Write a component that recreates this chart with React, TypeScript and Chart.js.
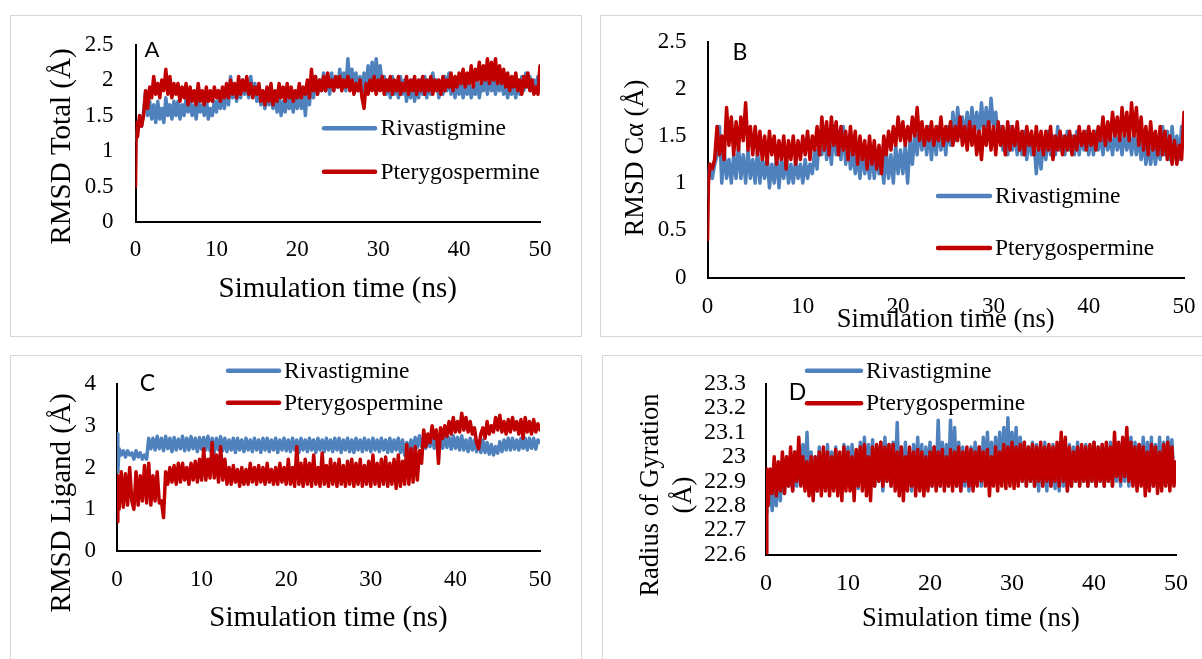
import React, { useEffect, useRef } from 'react';
import { Chart, registerables } from 'chart.js';

Chart.register(...registerables);

// ---------- data ----------
// sampling times (ns): 0, 0.1, then every 0.25 ns up to 50
const timeNs = [
  0, 0.1,
  0.25, 0.5, 0.75, 1, 1.25, 1.5, 1.75, 2, 2.25, 2.5, 2.75, 3, 3.25, 3.5, 3.75, 4, 4.25, 4.5, 4.75, 5,
  5.25, 5.5, 5.75, 6, 6.25, 6.5, 6.75, 7, 7.25, 7.5, 7.75, 8, 8.25, 8.5, 8.75, 9, 9.25, 9.5, 9.75, 10,
  10.25, 10.5, 10.75, 11, 11.25, 11.5, 11.75, 12, 12.25, 12.5, 12.75, 13, 13.25, 13.5, 13.75, 14, 14.25, 14.5, 14.75, 15,
  15.25, 15.5, 15.75, 16, 16.25, 16.5, 16.75, 17, 17.25, 17.5, 17.75, 18, 18.25, 18.5, 18.75, 19, 19.25, 19.5, 19.75, 20,
  20.25, 20.5, 20.75, 21, 21.25, 21.5, 21.75, 22, 22.25, 22.5, 22.75, 23, 23.25, 23.5, 23.75, 24, 24.25, 24.5, 24.75, 25,
  25.25, 25.5, 25.75, 26, 26.25, 26.5, 26.75, 27, 27.25, 27.5, 27.75, 28, 28.25, 28.5, 28.75, 29, 29.25, 29.5, 29.75, 30,
  30.25, 30.5, 30.75, 31, 31.25, 31.5, 31.75, 32, 32.25, 32.5, 32.75, 33, 33.25, 33.5, 33.75, 34, 34.25, 34.5, 34.75, 35,
  35.25, 35.5, 35.75, 36, 36.25, 36.5, 36.75, 37, 37.25, 37.5, 37.75, 38, 38.25, 38.5, 38.75, 39, 39.25, 39.5, 39.75, 40,
  40.25, 40.5, 40.75, 41, 41.25, 41.5, 41.75, 42, 42.25, 42.5, 42.75, 43, 43.25, 43.5, 43.75, 44, 44.25, 44.5, 44.75, 45,
  45.25, 45.5, 45.75, 46, 46.25, 46.5, 46.75, 47, 47.25, 47.5, 47.75, 48, 48.25, 48.5, 48.75, 49, 49.25, 49.5, 49.75, 50,
];

// A: RMSD Total
const totalRiva = [
  1.15, 1.25,
  1.3, 1.45, 1.35, 1.55, 1.85, 1.5, 1.7, 1.45, 1.65, 1.4, 1.7, 1.45, 1.6, 1.4, 1.75, 1.5, 1.65, 1.45, 1.7, 1.5,
  1.7, 1.45, 1.65, 1.5, 1.75, 1.55, 1.7, 1.5, 1.65, 1.45, 1.7, 1.55, 1.65, 1.5, 1.75, 1.45, 1.6, 1.5, 1.7, 1.55,
  1.75, 1.6, 1.8, 1.6, 1.9, 1.65, 2.05, 1.75, 1.9, 1.7, 1.95, 1.75, 2.0, 1.8, 1.95, 1.75, 2.05, 1.8, 1.95, 1.7,
  1.85, 1.65, 1.8, 1.6, 1.85, 1.65, 1.75, 1.6, 1.8, 1.55, 1.75, 1.5, 1.7, 1.55, 1.8, 1.6, 1.75, 1.55, 1.8, 1.6,
  1.85, 1.6, 1.8, 1.5, 1.9, 1.65, 2.0, 1.75, 2.05, 1.8, 2.0, 1.85, 2.1, 1.85, 2.05, 1.8, 2.1, 1.85, 2.05, 1.9,
  2.15, 1.9, 2.1, 1.85, 2.3, 1.95, 2.15, 1.9, 2.1, 1.85, 2.05, 1.8, 2.1, 1.9, 2.2, 1.95, 2.25, 1.9, 2.3, 2.0,
  2.2, 1.9, 2.05, 1.8, 2.0, 1.75, 2.05, 1.8, 1.95, 1.75, 2.05, 1.8, 2.0, 1.7, 1.95, 1.75, 2.0, 1.7, 1.95, 1.75,
  2.0, 1.8, 2.05, 1.75, 2.0, 1.8, 2.1, 1.85, 2.0, 1.75, 1.95, 1.8, 2.05, 1.85, 2.1, 1.8, 1.95, 1.75, 2.0, 1.8,
  1.95, 1.75, 2.0, 1.8, 1.95, 1.75, 1.9, 1.8, 2.0, 1.75, 1.95, 1.85, 2.05, 1.8, 2.1, 1.85, 2.0, 1.8, 2.05, 1.85,
  2.0, 1.8, 1.95, 1.75, 1.9, 1.8, 1.95, 1.75, 2.0, 1.8, 2.05, 1.85, 2.1, 1.9, 2.05, 1.85, 2.0, 1.9, 2.05, 2.0,
];
const totalPter = [
  0.5, 1.4,
  1.2, 1.5, 1.35, 1.5, 1.85, 1.6, 1.9, 1.75, 2.05, 1.8, 1.95, 1.75, 2.0, 1.85, 2.15, 1.8, 2.05, 1.75, 1.95, 1.8,
  1.95, 1.7, 1.9, 1.75, 1.95, 1.65, 1.9, 1.7, 1.85, 1.65, 1.95, 1.7, 1.85, 1.65, 1.9, 1.7, 1.85, 1.7, 1.9, 1.75,
  1.85, 1.7, 1.9, 1.75, 1.95, 1.75, 2.0, 1.8, 1.95, 1.75, 2.05, 1.8, 2.0, 1.85, 2.05, 1.8, 1.95, 1.75, 1.9, 1.8,
  1.95, 1.7, 1.85, 1.65, 1.9, 1.7, 1.95, 1.65, 1.85, 1.7, 1.95, 1.75, 1.9, 1.7, 1.95, 1.75, 1.9, 1.7, 1.85, 1.75,
  1.95, 1.75, 1.9, 1.8, 2.0, 1.75, 2.15, 1.85, 2.05, 1.8, 2.0, 1.85, 2.05, 1.85, 2.1, 1.9, 2.0, 1.85, 2.05, 1.9,
  2.05, 1.85, 2.0, 1.9, 2.05, 1.85, 2.0, 1.8, 1.95, 1.85, 2.0, 1.75, 1.6, 1.95, 1.8, 2.0, 1.85, 2.05, 1.8, 2.0,
  1.85, 2.05, 1.8, 2.0, 1.85, 2.05, 1.8, 2.0, 1.85, 2.05, 1.8, 1.95, 1.85, 2.05, 1.8, 2.0, 1.85, 2.05, 1.8, 2.0,
  1.85, 2.05, 1.8, 2.0, 1.85, 2.05, 1.8, 2.0, 1.85, 2.0, 1.8, 2.05, 1.85, 2.0, 1.9, 2.1, 1.85, 2.05, 1.9, 2.1,
  1.95, 2.15, 1.9, 2.1, 1.95, 2.2, 1.9, 2.15, 2.0, 2.25, 1.95, 2.2, 2.0, 2.3, 1.95, 2.25, 2.0, 2.3, 1.95, 2.2,
  1.95, 2.15, 1.9, 2.1, 1.85, 2.05, 1.9, 2.1, 1.85, 2.0, 1.8, 2.05, 1.9, 2.1, 1.85, 2.0, 1.8, 1.9, 1.8, 2.2,
];

// B: RMSD C-alpha
const caRiva = [
  0.85, 1.1,
  1.2, 1.05, 1.2, 1.3, 1.6, 1.0, 1.35, 1.05, 1.25, 1.0, 1.3, 1.05, 1.4, 1.05, 1.3, 1.0, 1.35, 1.05, 1.25, 1.0,
  1.35, 1.0, 1.25, 1.05, 1.3, 0.95, 1.2, 1.0, 1.3, 0.95, 1.25, 1.05, 1.3, 1.0, 1.2, 1.0, 1.25, 1.05, 1.2, 1.0,
  1.25, 1.05, 1.2, 1.1, 1.35, 1.15, 1.55, 1.3, 1.6, 1.25, 1.5, 1.2, 1.6, 1.3, 1.55, 1.25, 1.6, 1.2, 1.45, 1.15,
  1.35, 1.1, 1.3, 1.05, 1.35, 1.1, 1.3, 1.05, 1.35, 1.05, 1.3, 1.1, 1.25, 1.0, 1.35, 1.05, 1.3, 1.0, 1.4, 1.1,
  1.35, 1.1, 1.4, 1.0, 1.45, 1.2, 1.55, 1.3, 1.6, 1.35, 1.55, 1.3, 1.6, 1.25, 1.55, 1.3, 1.6, 1.35, 1.55, 1.3,
  1.6, 1.4, 1.75, 1.45, 1.8, 1.5, 1.7, 1.45, 1.75, 1.5, 1.8, 1.55, 1.75, 1.5, 1.85, 1.55, 1.8, 1.5, 1.9, 1.6,
  1.75, 1.45, 1.6, 1.35, 1.55, 1.3, 1.6, 1.35, 1.55, 1.3, 1.5, 1.3, 1.55, 1.25, 1.5, 1.3, 1.45, 1.1, 1.4, 1.15,
  1.45, 1.25, 1.55, 1.3, 1.5, 1.3, 1.6, 1.35, 1.5, 1.3, 1.55, 1.35, 1.5, 1.3, 1.55, 1.3, 1.5, 1.35, 1.55, 1.3,
  1.5, 1.3, 1.55, 1.35, 1.5, 1.3, 1.55, 1.35, 1.5, 1.3, 1.55, 1.35, 1.5, 1.3, 1.55, 1.35, 1.5, 1.3, 1.55, 1.3,
  1.5, 1.25, 1.45, 1.2, 1.4, 1.2, 1.45, 1.2, 1.4, 1.25, 1.6, 1.3, 1.55, 1.25, 1.6, 1.3, 1.5, 1.25, 1.6, 1.55,
];
const caPter = [
  0.4, 1.0,
  1.2, 1.15, 1.25, 1.6, 1.3, 1.5, 1.25, 1.8, 1.4, 1.7, 1.3, 1.65, 1.35, 1.7, 1.45, 1.85, 1.35, 1.6, 1.3, 1.6,
  1.3, 1.55, 1.25, 1.5, 1.2, 1.55, 1.3, 1.5, 1.2, 1.45, 1.25, 1.5, 1.15, 1.45, 1.25, 1.5, 1.2, 1.45, 1.25, 1.5,
  1.3, 1.55, 1.25, 1.5, 1.35, 1.6, 1.3, 1.7, 1.35, 1.65, 1.3, 1.7, 1.4, 1.65, 1.3, 1.6, 1.35, 1.55, 1.25, 1.6,
  1.3, 1.55, 1.2, 1.5, 1.25, 1.45, 1.15, 1.5, 1.2, 1.45, 1.15, 1.4, 1.1, 1.5, 1.3, 1.55, 1.35, 1.6, 1.4, 1.7,
  1.45, 1.65, 1.4, 1.6, 1.45, 1.7, 1.5, 1.8, 1.45, 1.65, 1.4, 1.6, 1.45, 1.65, 1.4, 1.6, 1.45, 1.7, 1.4, 1.6,
  1.45, 1.65, 1.4, 1.6, 1.45, 1.7, 1.4, 1.6, 1.35, 1.65, 1.4, 1.6, 1.3, 1.55, 1.25, 1.6, 1.4, 1.65, 1.35, 1.6,
  1.3, 1.65, 1.4, 1.6, 1.3, 1.65, 1.35, 1.6, 1.4, 1.65, 1.35, 1.55, 1.3, 1.6, 1.4, 1.55, 1.3, 1.6, 1.35, 1.55,
  1.3, 1.55, 1.35, 1.6, 1.25, 1.5, 1.35, 1.55, 1.3, 1.5, 1.35, 1.55, 1.3, 1.5, 1.35, 1.6, 1.4, 1.55, 1.35, 1.6,
  1.4, 1.55, 1.35, 1.6, 1.45, 1.7, 1.4, 1.65, 1.45, 1.75, 1.5, 1.7, 1.45, 1.8, 1.5, 1.75, 1.45, 1.85, 1.5, 1.8,
  1.4, 1.7, 1.35, 1.6, 1.3, 1.65, 1.35, 1.55, 1.3, 1.6, 1.3, 1.55, 1.25, 1.5, 1.2, 1.45, 1.2, 1.4, 1.25, 1.75,
];

// C: RMSD Ligand
const ligRiva = [
  2.8, 1.9,
  2.45, 2.3, 2.4, 2.25, 2.4, 2.3, 2.35, 2.2, 2.4, 2.25, 2.35, 2.2, 2.3, 2.2, 2.7, 2.45, 2.7, 2.42, 2.75, 2.45,
  2.7, 2.4, 2.75, 2.45, 2.7, 2.38, 2.72, 2.42, 2.68, 2.45, 2.75, 2.4, 2.7, 2.42, 2.74, 2.45, 2.7, 2.38, 2.72, 2.44,
  2.72, 2.42, 2.75, 2.4, 2.7, 2.36, 2.7, 2.42, 2.74, 2.4, 2.7, 2.38, 2.66, 2.42, 2.7, 2.36, 2.7, 2.42, 2.66, 2.38,
  2.7, 2.42, 2.66, 2.38, 2.7, 2.42, 2.66, 2.36, 2.7, 2.42, 2.7, 2.38, 2.66, 2.42, 2.7, 2.36, 2.66, 2.42, 2.7, 2.4,
  2.66, 2.38, 2.7, 2.42, 2.66, 2.36, 2.7, 2.42, 2.66, 2.38, 2.7, 2.42, 2.66, 2.36, 2.7, 2.42, 2.66, 2.38, 2.7, 2.42,
  2.66, 2.38, 2.7, 2.42, 2.7, 2.36, 2.66, 2.42, 2.7, 2.38, 2.66, 2.36, 2.7, 2.42, 2.66, 2.38, 2.7, 2.42, 2.66, 2.38,
  2.7, 2.42, 2.66, 2.38, 2.7, 2.42, 2.66, 2.36, 2.7, 2.38, 2.66, 2.42, 2.7, 2.36, 2.66, 2.3, 2.6, 2.36, 2.66, 2.42,
  2.72, 2.48, 2.76, 2.5, 2.72, 2.46, 2.76, 2.5, 2.72, 2.46, 2.76, 2.5, 2.72, 2.46, 2.76, 2.48, 2.72, 2.44, 2.76, 2.46,
  2.72, 2.42, 2.76, 2.42, 2.66, 2.38, 2.7, 2.42, 2.66, 2.38, 2.62, 2.36, 2.66, 2.36, 2.6, 2.32, 2.55, 2.3, 2.5, 2.34,
  2.62, 2.38, 2.66, 2.42, 2.7, 2.42, 2.7, 2.44, 2.66, 2.42, 2.7, 2.46, 2.7, 2.42, 2.7, 2.46, 2.7, 2.44, 2.66, 2.6,
];
const ligPter = [
  0.7, 1.8,
  1.0, 1.9, 1.05, 1.85, 1.1, 2.0, 1.2, 1.0, 1.9, 1.1, 1.8, 1.2, 2.05, 1.15, 2.1, 1.1, 1.8, 1.2, 1.9, 1.15,
  1.2, 0.8, 1.9, 1.6, 2.0, 1.65, 2.05, 1.6, 2.1, 1.65, 2.1, 1.7, 2.0, 1.6, 2.1, 1.7, 2.15, 1.65, 2.2, 1.7,
  2.45, 1.7, 2.2, 1.75, 2.6, 1.75, 2.3, 1.65, 2.5, 1.7, 2.2, 1.6, 2.0, 1.6, 2.05, 1.65, 1.95, 1.55, 2.0, 1.6,
  1.95, 1.6, 2.1, 1.65, 2.0, 1.6, 2.05, 1.65, 2.0, 1.6, 2.1, 1.65, 1.95, 1.6, 2.0, 1.6, 2.1, 1.65, 2.0, 1.6,
  2.2, 1.6, 2.0, 1.55, 2.5, 1.6, 2.1, 1.55, 2.2, 1.6, 2.1, 1.55, 2.3, 1.6, 2.0, 1.55, 2.35, 1.6, 2.05, 1.55,
  2.2, 1.6, 2.1, 1.55, 2.2, 1.6, 2.05, 1.55, 2.15, 1.6, 2.2, 1.55, 2.1, 1.6, 2.2, 1.55, 2.05, 1.6, 2.15, 1.55,
  2.3, 1.6, 2.1, 1.55, 2.2, 1.6, 2.25, 1.55, 2.1, 1.6, 2.2, 1.5, 2.3, 1.55, 2.15, 1.6, 2.55, 1.6, 2.45, 1.65,
  2.5, 1.7, 2.4, 2.1, 2.9, 2.5, 2.8, 2.6, 3.0, 2.7, 2.9, 2.1, 2.95, 2.7, 3.0, 2.75, 3.1, 2.8, 3.2, 2.85,
  3.1, 2.85, 3.3, 2.9, 3.2, 2.85, 3.1, 2.8, 2.95, 2.6, 2.45, 2.8, 2.95, 2.7, 3.1, 2.8, 3.0, 2.85, 3.2, 2.9,
  3.25, 2.85, 3.1, 2.8, 3.15, 2.85, 3.2, 2.9, 3.1, 2.8, 3.15, 2.7, 3.2, 2.85, 3.1, 2.8, 3.15, 2.85, 3.05, 2.9,
];

// D: Radius of gyration
const rgRiva = [
  22.77, 22.9,
  22.8, 22.9, 22.78, 22.88, 22.8, 22.95, 22.82, 22.98, 22.85, 23.0, 22.88, 22.98, 22.86, 23.02, 22.88, 23.0, 22.9, 23.05, 22.88, 23.1,
  22.9, 23.02, 22.88, 23.0, 22.86, 23.04, 22.88, 23.0, 22.87, 23.05, 22.86, 23.02, 22.88, 23.04, 22.87, 23.0, 22.88, 23.05, 22.9, 23.04,
  22.88, 23.05, 22.9, 23.02, 22.87, 23.06, 22.9, 23.08, 22.88, 23.05, 22.9, 23.07, 22.88, 23.04, 22.9, 23.06, 22.86, 23.08, 22.9, 23.05,
  22.88, 23.06, 22.9, 23.14, 22.88, 23.04, 22.86, 23.06, 22.88, 23.02, 22.86, 23.05, 22.9, 23.08, 22.88, 23.05, 22.86, 23.04, 22.9, 23.06,
  22.88, 23.04, 22.9, 23.15, 22.88, 23.06, 22.9, 23.05, 22.88, 23.15, 22.9, 23.12, 22.88, 23.06, 22.86, 23.04, 22.88, 23.02, 22.86, 23.04,
  22.88, 23.06, 22.9, 23.04, 22.88, 23.08, 22.9, 23.1, 22.92, 23.06, 22.9, 23.08, 22.92, 23.1, 22.9, 23.12, 22.94, 23.16, 22.92, 23.1,
  22.95, 23.12, 22.92, 23.08, 22.9, 23.06, 22.88, 23.04, 22.9, 23.06, 22.88, 23.05, 22.86, 23.04, 22.88, 23.06, 22.86, 23.04, 22.88, 23.05,
  22.87, 23.04, 22.86, 23.06, 22.88, 23.04, 22.86, 23.05, 22.88, 23.04, 22.9, 23.06, 22.88, 23.04, 22.9, 23.05, 22.88, 23.04, 22.9, 23.06,
  22.88, 23.04, 22.9, 23.05, 22.88, 23.04, 22.9, 23.06, 22.88, 23.05, 22.9, 23.04, 22.88, 23.06, 22.9, 23.05, 22.88, 23.08, 22.9, 23.06,
  22.88, 23.05, 22.9, 23.08, 22.88, 23.06, 22.9, 23.08, 22.88, 23.05, 22.9, 23.08, 22.88, 23.06, 22.9, 23.08, 22.88, 23.07, 22.9, 22.95,
];
const rgPter = [
  22.6, 22.95,
  22.8, 22.95, 22.85, 23.0, 22.84, 22.98, 22.86, 23.02, 22.85, 23.0, 22.88, 23.04, 22.86, 23.02, 22.9, 23.08, 22.88, 23.0, 22.86, 22.98,
  22.84, 23.0, 22.82, 23.0, 22.86, 23.02, 22.84, 23.04, 22.86, 23.02, 22.84, 23.0, 22.86, 23.03, 22.84, 23.02, 22.82, 23.04, 22.86, 23.02,
  22.86, 23.0, 22.82, 23.03, 22.88, 23.04, 22.86, 23.05, 22.84, 23.0, 22.82, 23.04, 22.88, 23.05, 22.9, 23.06, 22.88, 23.04, 22.9, 23.05,
  22.88, 23.05, 22.86, 23.02, 22.84, 23.04, 22.82, 23.0, 22.86, 23.04, 22.88, 23.02, 22.84, 23.03, 22.86, 23.02, 22.84, 23.0, 22.86, 23.02,
  22.88, 23.04, 22.86, 23.02, 22.88, 23.03, 22.86, 23.0, 22.88, 23.03, 22.86, 23.02, 22.88, 23.04, 22.86, 23.02, 22.9, 23.04, 22.88, 23.03,
  22.86, 23.02, 22.88, 23.04, 22.9, 23.02, 22.88, 23.03, 22.84, 23.0, 22.88, 23.04, 22.86, 23.02, 22.88, 23.05, 22.87, 23.04, 22.88, 23.06,
  22.87, 23.04, 22.88, 23.05, 22.9, 23.06, 22.88, 23.04, 22.9, 23.05, 22.88, 23.04, 22.9, 23.06, 22.88, 23.04, 22.9, 23.05, 22.88, 23.04,
  22.9, 23.06, 22.88, 23.1, 22.9, 23.08, 22.86, 23.04, 22.88, 23.02, 22.9, 23.04, 22.88, 23.05, 22.9, 23.04, 22.88, 23.05, 22.9, 23.06,
  22.88, 23.04, 22.9, 23.05, 22.88, 23.06, 22.9, 23.04, 22.88, 23.1, 22.92, 23.06, 22.9, 23.08, 22.92, 23.12, 22.9, 23.06, 22.88, 23.04,
  22.86, 23.05, 22.88, 23.04, 22.84, 23.02, 22.86, 23.05, 22.88, 23.04, 22.85, 23.02, 22.86, 23.05, 22.88, 23.06, 22.86, 23.04, 22.88, 22.98,
];

const seriesNames = ['Rivastigmine', 'Pterygospermine'];
const xRange = [0, 50];
const xStep = 10;
const yRangeTotal = [0, 2.5, 0.5];
const yRangeCa = [0, 2.5, 0.5];
const yRangeLig = [0, 4, 1];
const yRangeRg = [22.6, 23.3, 0.1];

// ---------- styling / layout ----------
const SERIF = '"Liberation Serif", "Times New Roman", serif';
const SANS = 'Lato, "Open Sans", sans-serif';
const BLUE = '#4f81bd';
const RED = '#c00000';

type PanelCfg = {
  key: string;
  letter: string;
  left: number; top: number; w: number; h: number; bw: number; bh: number;
  area: { left: number; right: number; top: number; bottom: number };
  yRange: number[];
  yTitle: string[]; yTitleX: number[]; yTitleY: number; yTitleSize: number;
  xTitleSize: number; xTitleY: number;
  tickSize: number; yTickPad: number; xTickPad: number;
  letterX: number; letterY: number; letterSize: number;
  legX1: number; legX2: number; legY: number[]; legTextX: number;
  riva: number[]; pter: number[];
};

const panels: PanelCfg[] = [
  {
    key: 'A', letter: 'A', left: 10, top: 15, w: 572, h: 322, bw: 572, bh: 322,
    area: { left: 125.5, right: 530, top: 29.5, bottom: 207 },
    yRange: yRangeTotal,
    yTitle: ['RMSD Total (Å)'], yTitleX: [52.5], yTitleY: 131.5, yTitleSize: 29,
    xTitleSize: 29, xTitleY: 274,
    tickSize: 23, yTickPad: 22, xTickPad: 14.2,
    letterX: 142, letterY: 34.5, letterSize: 22,
    legX1: 314, legX2: 365, legY: [113.3, 156.7], legTextX: 370.5,
    riva: totalRiva, pter: totalPter,
  },
  {
    key: 'B', letter: 'B', left: 600, top: 15, w: 602, h: 322, bw: 640, bh: 322,
    area: { left: 107.5, right: 584, top: 26.5, bottom: 262.5 },
    yRange: yRangeCa,
    yTitle: ['RMSD Cα (Å)'], yTitleX: [36], yTitleY: 143, yTitleSize: 26.5,
    xTitleSize: 26.5, xTitleY: 305,
    tickSize: 23, yTickPad: 21, xTickPad: 15.7,
    letterX: 140, letterY: 38, letterSize: 23,
    legX1: 338, legX2: 390, legY: [181, 233], legTextX: 395,
    riva: caRiva, pter: caPter,
  },
  {
    key: 'C', letter: 'C', left: 10, top: 355, w: 572, h: 304, bw: 572, bh: 340,
    area: { left: 107, right: 530, top: 29, bottom: 196 },
    yRange: yRangeLig,
    yTitle: ['RMSD Ligand (Å)'], yTitleX: [52], yTitleY: 148, yTitleSize: 29,
    xTitleSize: 29, xTitleY: 263,
    tickSize: 23, yTickPad: 21, xTickPad: 15.2,
    letterX: 137.5, letterY: 28.5, letterSize: 23,
    legX1: 218, legX2: 269, legY: [15.7, 47.7], legTextX: 274,
    riva: ligRiva, pter: ligPter,
  },
  {
    key: 'D', letter: 'D', left: 602, top: 355, w: 600, h: 304, bw: 640, bh: 340,
    area: { left: 164, right: 574, top: 28.5, bottom: 199.5 },
    yRange: yRangeRg,
    yTitle: ['Radius of Gyration', '(Å)'], yTitleX: [49, 82], yTitleY: 140, yTitleSize: 26.5,
    xTitleSize: 26.5, xTitleY: 264,
    tickSize: 24, yTickPad: 20, xTickPad: 14.6,
    letterX: 195.5, letterY: 38, letterSize: 23,
    legX1: 205, legX2: 259, legY: [15.7, 48.3], legTextX: 264,
    riva: rgRiva, pter: rgPter,
  },
];

const fmtTick = (v: any) => String(parseFloat(Number(v).toFixed(3)));

function makeTextPlugin(cfg: PanelCfg) {
  return {
    id: 'panelText' + cfg.key,
    afterDraw(chart: any) {
      const ctx: CanvasRenderingContext2D = chart.ctx;
      ctx.save();
      ctx.fillStyle = '#000';
      ctx.textBaseline = 'middle';
      // y-axis title (rotated)
      ctx.font = `${cfg.yTitleSize}px ${SERIF}`;
      ctx.textAlign = 'center';
      cfg.yTitle.forEach((line, i) => {
        ctx.save();
        ctx.translate(cfg.yTitleX[i], cfg.yTitleY);
        ctx.rotate(-Math.PI / 2);
        ctx.fillText(line, 0, 0);
        ctx.restore();
      });
      // panel letter
      ctx.font = `${cfg.letterSize}px ${SANS}`;
      ctx.fillText(cfg.letter, cfg.letterX, cfg.letterY);
      // legend
      const colors = [BLUE, RED];
      ctx.font = `23.5px ${SERIF}`;
      ctx.textAlign = 'left';
      seriesNames.forEach((name, i) => {
        ctx.strokeStyle = colors[i];
        ctx.lineWidth = 4.5;
        ctx.lineCap = 'round';
        ctx.beginPath();
        ctx.moveTo(cfg.legX1, cfg.legY[i]);
        ctx.lineTo(cfg.legX2, cfg.legY[i]);
        ctx.stroke();
        ctx.fillStyle = '#000';
        ctx.fillText(name, cfg.legTextX, cfg.legY[i] + 1);
      });
      ctx.restore();
    },
  };
}

function buildConfig(cfg: PanelCfg): any {
  const pts = (arr: number[]) => timeNs.map((t, i) => ({ x: t, y: arr[i] }));
  const xHeight = cfg.h - cfg.area.bottom;
  const xTitlePadBottom = cfg.h - cfg.xTitleY - 0.6 * cfg.xTitleSize;
  return {
    type: 'line',
    data: {
      datasets: [
        {
          label: seriesNames[1], data: pts(cfg.pter), borderColor: RED, backgroundColor: RED,
          borderWidth: 3.5, pointRadius: 0, borderJoinStyle: 'round', borderCapStyle: 'round',
          tension: 0, order: 0,
        },
        {
          label: seriesNames[0], data: pts(cfg.riva), borderColor: BLUE, backgroundColor: BLUE,
          borderWidth: 3.5, pointRadius: 0, borderJoinStyle: 'round', borderCapStyle: 'round',
          tension: 0, order: 1,
        },
      ],
    },
    options: {
      animation: false,
      responsive: false,
      events: [],
      layout: { padding: { left: 0, top: cfg.area.top, right: cfg.w - cfg.area.right, bottom: 0 } },
      plugins: { legend: { display: false }, tooltip: { enabled: false }, title: { display: false } },
      scales: {
        x: {
          type: 'linear',
          min: xRange[0], max: xRange[1],
          ticks: {
            stepSize: xStep, color: '#000', font: { family: SERIF, size: cfg.tickSize },
            padding: cfg.xTickPad, maxRotation: 0, autoSkip: false, callback: fmtTick,
          },
          grid: { display: false, drawTicks: false },
          border: { display: true, color: '#000', width: 2 },
          title: {
            display: true, text: 'Simulation time (ns)', color: '#000',
            font: { family: SERIF, size: cfg.xTitleSize },
            padding: { top: 0, bottom: xTitlePadBottom },
          },
          afterFit: (s: any) => { s.height = xHeight; s.paddingLeft = 0; s.paddingRight = 0; },
        },
        y: {
          type: 'linear',
          min: cfg.yRange[0], max: cfg.yRange[1],
          ticks: {
            stepSize: cfg.yRange[2], color: '#000', font: { family: SERIF, size: cfg.tickSize },
            padding: cfg.yTickPad, autoSkip: false, callback: fmtTick,
          },
          grid: { display: false, drawTicks: false },
          border: { display: true, color: '#000', width: 2 },
          afterFit: (s: any) => { s.width = cfg.area.left; s.paddingTop = 0; s.paddingBottom = 0; },
        },
      },
    },
    plugins: [makeTextPlugin(cfg)],
  };
}

function Panel({ cfg }: { cfg: PanelCfg }) {
  const ref = useRef<HTMLCanvasElement | null>(null);
  useEffect(() => {
    if (!ref.current) return;
    const chart = new Chart(ref.current, buildConfig(cfg));
    return () => chart.destroy();
  }, [cfg]);
  return (
    <>
      <div
        style={{
          position: 'absolute', left: cfg.left, top: cfg.top, width: cfg.bw, height: cfg.bh,
          border: '1px solid #d6d6d6', boxSizing: 'border-box',
        }}
      />
      <canvas
        ref={ref}
        width={cfg.w}
        height={cfg.h}
        style={{ position: 'absolute', left: cfg.left, top: cfg.top, width: cfg.w, height: cfg.h }}
      />
    </>
  );
}

export default function App() {
  return (
    <div
      style={{
        position: 'fixed', left: 0, top: 0, width: 1202, height: 659,
        overflow: 'hidden', background: '#fff',
      }}
    >
      {panels.map((p) => (
        <Panel key={p.key} cfg={p} />
      ))}
    </div>
  );
}
